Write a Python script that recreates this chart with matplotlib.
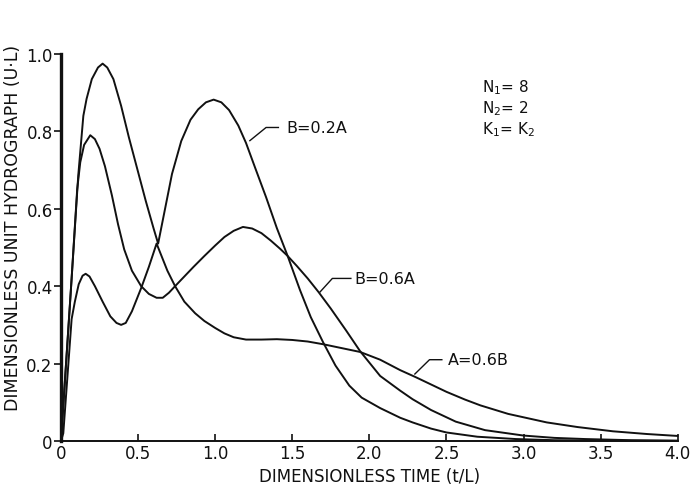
import matplotlib
matplotlib.use("Agg")
import matplotlib.pyplot as plt

# ---- data ----
t_b02a = [0.0, 0.069, 0.112, 0.13, 0.145, 0.166, 0.20, 0.24, 0.27, 0.30, 0.34, 0.39, 0.44,
          0.50, 0.55, 0.60, 0.63, 0.67, 0.72, 0.78, 0.84, 0.89, 0.94, 0.99, 1.04, 1.09, 1.15,
          1.20, 1.26, 1.33, 1.40, 1.47, 1.55, 1.62, 1.70, 1.78, 1.87, 1.95, 2.07, 2.20, 2.28,
          2.40, 2.50, 2.70, 2.95, 3.20, 3.50, 4.00]
y_b02a = [0.0, 0.42, 0.686, 0.77, 0.84, 0.884, 0.935, 0.965, 0.975, 0.965, 0.935, 0.866, 0.785,
          0.695, 0.62, 0.55, 0.51, 0.59, 0.69, 0.775, 0.83, 0.857, 0.875, 0.882, 0.875, 0.855, 0.815,
          0.77, 0.705, 0.63, 0.55, 0.478, 0.39, 0.32, 0.255, 0.195, 0.143, 0.112, 0.085, 0.06, 0.048,
          0.032, 0.022, 0.011, 0.005, 0.002, 0.001, 0.0]

t_b06a = [0.0, 0.069, 0.105, 0.125, 0.15, 0.19, 0.22, 0.25, 0.285, 0.33, 0.37, 0.41, 0.46,
          0.52, 0.57, 0.62, 0.66, 0.70, 0.74, 0.80, 0.86, 0.93, 1.00, 1.06, 1.12, 1.18, 1.24,
          1.30, 1.36, 1.42, 1.47, 1.53, 1.60, 1.67, 1.75, 1.85, 1.94, 2.07, 2.20, 2.28, 2.40,
          2.56, 2.75, 3.00, 3.20, 3.40, 3.70, 4.00]
y_b06a = [0.0, 0.42, 0.65, 0.72, 0.765, 0.79, 0.78, 0.755, 0.71, 0.635, 0.56, 0.495, 0.44,
          0.40, 0.38, 0.37, 0.37, 0.383, 0.40, 0.425, 0.45, 0.478, 0.505, 0.527, 0.543, 0.553, 0.549,
          0.537, 0.518, 0.497, 0.478, 0.452, 0.42, 0.385, 0.342, 0.285, 0.232, 0.168, 0.13, 0.108, 0.08,
          0.05, 0.028, 0.014, 0.008, 0.005, 0.002, 0.001]

t_a06b = [0.0, 0.015, 0.069, 0.09, 0.115, 0.14, 0.16, 0.185, 0.22, 0.27, 0.32, 0.36, 0.39, 0.42,
          0.46, 0.52, 0.57, 0.62, 0.65, 0.69, 0.74, 0.80, 0.87, 0.93, 1.00, 1.06, 1.12, 1.20,
          1.30, 1.40, 1.50, 1.60, 1.70, 1.82, 1.94, 2.07, 2.20, 2.30, 2.40, 2.50, 2.62, 2.72,
          2.90, 3.15, 3.35, 3.58, 3.80, 4.00]
y_a06b = [0.0, 0.02, 0.315, 0.36, 0.405, 0.427, 0.432, 0.425, 0.40, 0.36, 0.322, 0.305, 0.30, 0.305,
          0.335, 0.395, 0.45, 0.51, 0.48, 0.44, 0.40, 0.36, 0.33, 0.31, 0.292, 0.278, 0.268, 0.262,
          0.262, 0.263, 0.261, 0.257, 0.25, 0.24, 0.23, 0.21, 0.183, 0.165, 0.146, 0.127, 0.107, 0.092,
          0.07, 0.048, 0.036, 0.025, 0.018, 0.013]

x_ticks = [0, 0.5, 1.0, 1.5, 2.0, 2.5, 3.0, 3.5, 4.0]
x_ticklabels = ["0", "0.5", "1.0", "1.5", "2.0", "2.5", "3.0", "3.5", "4.0"]
y_ticks = [0, 0.2, 0.4, 0.6, 0.8, 1.0]
y_ticklabels = ["0", "0.2", "0.4", "0.6", "0.8", "1.0"]

plt.rcParams['font.family'] = ['DejaVu Sans']
plt.rcParams['mathtext.fontset'] = 'dejavusans'

fig = plt.figure(figsize=(6.93, 4.85), dpi=100)
ax = fig.add_axes([0.088, 0.0887, 0.890, 0.798])

lc = '#111111'
for t, y in [(t_b02a, y_b02a), (t_b06a, y_b06a), (t_a06b, y_a06b)]:
    ax.plot(t, y, color=lc, lw=1.4, solid_joinstyle='round', solid_capstyle='round', clip_on=False)

ax.set_xlim(0, 4.0)
ax.set_ylim(0, 1.0)
ax.spines['top'].set_visible(False)
ax.spines['right'].set_visible(False)
ax.spines['left'].set_linewidth(2.4)
ax.spines['bottom'].set_linewidth(1.4)
ax.spines['left'].set_color(lc)
ax.spines['bottom'].set_color(lc)

ax.set_xticks(x_ticks)
ax.set_xticklabels(x_ticklabels)
ax.set_yticks(y_ticks)
ax.set_yticklabels(y_ticklabels)
ax.tick_params(axis='x', direction='in', length=5, width=1.2, labelsize=12, pad=2, colors=lc)
ax.tick_params(axis='y', direction='out', length=5, width=1.2, labelsize=12, pad=1, colors=lc)

ax.set_xlabel("DIMENSIONLESS TIME (t/L)", fontsize=12, color=lc)
ax.xaxis.set_label_coords(0.5, -0.066)
ax.set_ylabel("DIMENSIONLESS UNIT HYDROGRAPH (U·L)", fontsize=12.5, color=lc)
ax.yaxis.set_label_coords(-0.064, 0.553)

# curve labels with leaders
lab_fs = 11.5
ax.plot([1.225, 1.33, 1.41], [0.776, 0.81, 0.81], color=lc, lw=1.0)
ax.text(1.46, 0.81, "B=0.2A", fontsize=lab_fs, va='center', ha='left', color=lc)
ax.plot([1.68, 1.76, 1.88], [0.385, 0.42, 0.42], color=lc, lw=1.0)
ax.text(1.90, 0.42, "B=0.6A", fontsize=lab_fs, va='center', ha='left', color=lc)
ax.plot([2.295, 2.39, 2.47], [0.173, 0.21, 0.21], color=lc, lw=1.0)
ax.text(2.51, 0.21, "A=0.6B", fontsize=lab_fs, va='center', ha='left', color=lc)

# parameters
ax.text(2.73, 0.915, r"N$_1$= 8", fontsize=11, va='center', ha='left', color=lc)
ax.text(2.73, 0.86, r"N$_2$= 2", fontsize=11, va='center', ha='left', color=lc)
ax.text(2.73, 0.806, r"K$_1$= K$_2$", fontsize=11, va='center', ha='left', color=lc)

fig.savefig("out.png", dpi=100)
